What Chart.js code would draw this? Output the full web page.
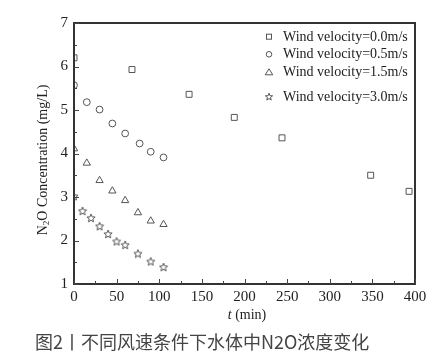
<!DOCTYPE html>
<html><head><meta charset="utf-8">
<script src="https://cdn.jsdelivr.net/npm/chart.js@4/dist/chart.umd.min.js"></script>
<style>html,body{margin:0;padding:0;background:#fff}#wrap{width:437px;height:360px;position:relative}</style>
</head><body><div id="wrap"><canvas id="c" width="437" height="360"></canvas></div>
<script>
const seriesLabels = ['Wind velocity=0.0m/s','Wind velocity=0.5m/s','Wind velocity=1.5m/s','Wind velocity=3.0m/s'];
const t00 = [0, 68, 135, 188, 244, 348, 393];
const c00 = [6.2, 5.93, 5.36, 4.83, 4.36, 3.50, 3.13];
const t05 = [0, 15, 30, 45, 60, 77, 90, 105];
const c05 = [5.57, 5.18, 5.01, 4.69, 4.46, 4.23, 4.04, 3.91];
const t15 = [0, 15, 30, 45, 60, 75, 90, 105];
const c15 = [4.11, 3.78, 3.38, 3.14, 2.92, 2.64, 2.45, 2.37];
const t30 = [0, 10, 20, 30, 40, 50, 60, 75, 90, 105];
const c30 = [3.02, 2.68, 2.52, 2.33, 2.15, 1.98, 1.90, 1.70, 1.52, 1.39];
const xTicks = [0, 50, 100, 150, 200, 250, 300, 350, 400];
const yTicks = [1, 2, 3, 4, 5, 6, 7];
const caption = '图2丨不同风速条件下水体中N2O浓度变化';

const MC = '#555';
const SERIF = 'Liberation Serif';

function starPath(ctx, cx, cy, R, r) {
  ctx.beginPath();
  for (let i = 0; i < 10; i++) {
    const a = -Math.PI / 2 + i * Math.PI / 5;
    const rr = i % 2 ? r : R;
    const x = cx + rr * Math.cos(a), y = cy + rr * Math.sin(a);
    i ? ctx.lineTo(x, y) : ctx.moveTo(x, y);
  }
  ctx.closePath();
}
function makeStar() {
  const cv = document.createElement('canvas');
  cv.width = 10; cv.height = 10;
  const g = cv.getContext('2d');
  g.strokeStyle = MC; g.lineWidth = 1;
  starPath(g, 5, 5.4, 4.3, 1.9);
  g.stroke();
  return cv;
}
const starImg = makeStar();
const pts = (xs, ys) => xs.map((x, i) => ({x, y: ys[i]}));
const styles = [
  {pointStyle: 'rect', pointRadius: 4.2},
  {pointStyle: 'circle', pointRadius: 3.4},
  {pointStyle: 'triangle', pointRadius: 4.2},
  {pointStyle: starImg, pointRadius: 5}
];
const datasets = [[t00,c00],[t05,c05],[t15,c15],[t30,c30]].map((d, i) => Object.assign({
  label: seriesLabels[i], data: pts(d[0], d[1]), showLine: false,
  borderColor: MC, backgroundColor: 'rgba(0,0,0,0)', borderWidth: 1, clip: 0
}, styles[i]));

const deco = {
  id: 'deco',
  afterDraw(chart) {
    const ctx = chart.ctx, a = chart.chartArea, xs = chart.scales.x, ys = chart.scales.y;
    ctx.save();
    ctx.fillStyle = '#333';
    const L0 = Math.round(a.left), R0 = Math.round(a.right), T0 = Math.round(a.top), B0 = Math.round(a.bottom);
    ctx.fillRect(L0 - 1, T0 - 1, R0 - L0 + 2, 2);
    ctx.fillRect(L0 - 1, B0 - 1, R0 - L0 + 2, 2);
    ctx.fillRect(L0 - 1, T0 - 1, 2, B0 - T0 + 2);
    ctx.fillRect(R0 - 1, T0 - 1, 2, B0 - T0 + 2);
    ctx.fillStyle = '#444';
    for (let v = 0; v <= 400; v += 25) {
      const px = Math.round(xs.getPixelForValue(v));
      const L = v % 50 === 0 ? 5 : 3;
      ctx.fillRect(px, B0 - L, 1, L);
    }
    for (let v = 1; v <= 7; v += 0.5) {
      const py = Math.round(ys.getPixelForValue(v));
      const L = Number.isInteger(v) ? 5 : 3;
      ctx.fillRect(L0, py, L, 1);
    }
    // tick labels from the library's scales
    ctx.fillStyle = '#222';
    ctx.font = '15px ' + SERIF;
    ctx.textAlign = 'center'; ctx.textBaseline = 'middle';
    xs.ticks.forEach(t => ctx.fillText(String(t.value), xs.getPixelForValue(t.value), 297));
    ctx.textAlign = 'right';
    ys.ticks.forEach(t => ctx.fillText(String(t.value), 68, ys.getPixelForValue(t.value)));
    // legend
    const rows = [36.7, 54.3, 72.3, 96.7];
    ctx.font = '14px ' + SERIF; ctx.fillStyle = '#222'; ctx.textBaseline = 'middle'; ctx.textAlign = 'left';
    rows.forEach((y, i) => {
      ctx.strokeStyle = MC; ctx.lineWidth = 1;
      const mx = 269;
      if (i === 0) { ctx.strokeRect(mx - 2.5, y - 2.5, 5, 5); }
      else if (i === 1) { ctx.beginPath(); ctx.arc(mx, y, 2.8, 0, Math.PI * 2); ctx.stroke(); }
      else if (i === 2) { ctx.beginPath(); ctx.moveTo(mx, y - 3.5); ctx.lineTo(mx + 3.8, y + 2.5); ctx.lineTo(mx - 3.8, y + 2.5); ctx.closePath(); ctx.stroke(); }
      else { starPath(ctx, mx, y + 0.3, 3.8, 1.6); ctx.stroke(); }
      ctx.fillText(seriesLabels[i], 283, y + 0.5);
    });
    // x title
    const t1 = 't', t2 = ' (min)';
    ctx.font = 'italic 14px ' + SERIF; const w1 = ctx.measureText(t1).width;
    ctx.font = '14px ' + SERIF; const w2 = ctx.measureText(t2).width;
    const sx = 247 - (w1 + w2) / 2;
    ctx.font = 'italic 14px ' + SERIF; ctx.fillText(t1, sx, 315);
    ctx.font = '14px ' + SERIF; ctx.fillText(t2, sx + w1, 315);
    // y title
    ctx.save();
    ctx.translate(43, 160); ctx.rotate(-Math.PI / 2);
    const parts = [['N', 14, 0], ['2', 9, 4], ['O Concentration (mg/L)', 14, 0]];
    let tw = 0;
    parts.forEach(p => { ctx.font = p[1] + 'px ' + SERIF; tw += ctx.measureText(p[0]).width; });
    let cx = -tw / 2;
    parts.forEach(p => { ctx.font = p[1] + 'px ' + SERIF; ctx.fillText(p[0], cx, p[2]); cx += ctx.measureText(p[0]).width; });
    ctx.restore();
    // caption
    ctx.font = '18px "Noto Sans CJK SC"';
    ctx.fillStyle = '#444'; ctx.textAlign = 'left'; ctx.textBaseline = 'middle';
    ctx.fillText(caption, 35, 342);
    ctx.restore();
  }
};

new Chart(document.getElementById('c'), {
  type: 'scatter',
  data: {datasets},
  options: {
    responsive: false, animation: false, devicePixelRatio: 1,
    layout: {padding: {left: 0, top: 23, right: 22, bottom: 0}},
    plugins: {legend: {display: false}, tooltip: {enabled: false}},
    scales: {
      x: {type: 'linear', min: 0, max: 400,
        afterBuildTicks: s => { s.ticks = xTicks.map(v => ({value: v})); },
        afterFit: s => { s.height = 76; s.paddingLeft = 0; s.paddingRight = 0; },
        grid: {display: false, drawTicks: false}, border: {display: false},
        ticks: {display: false}},
      y: {type: 'linear', min: 1, max: 7,
        afterBuildTicks: s => { s.ticks = yTicks.map(v => ({value: v})); },
        afterFit: s => { s.width = 74; s.paddingTop = 0; s.paddingBottom = 0; },
        grid: {display: false, drawTicks: false}, border: {display: false},
        ticks: {display: false}}
    }
  },
  plugins: [deco]
});
</script></body></html>
